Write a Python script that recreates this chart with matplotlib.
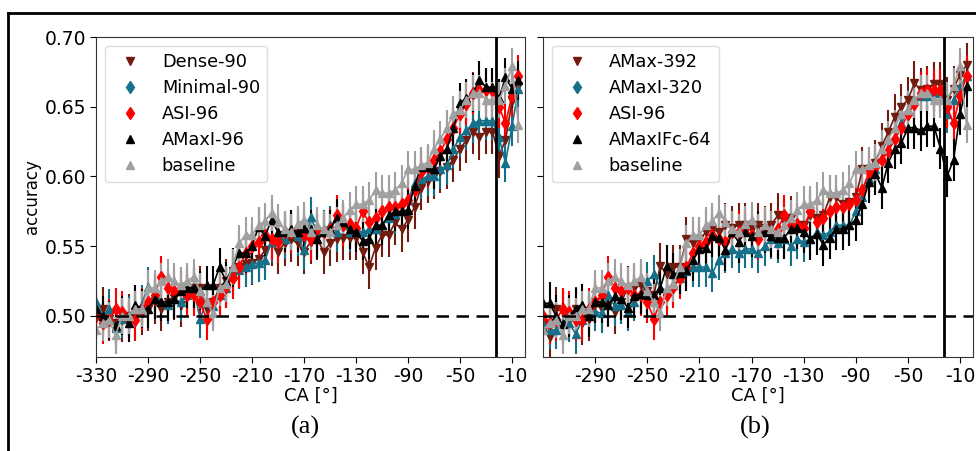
import numpy as np
import matplotlib.pyplot as plt
from matplotlib.lines import Line2D

# crank angle positions (deg)
ca = np.arange(-330, 0, 5)

# panel (a)
dense_90 = [0.500, 0.505, 0.498, 0.495, 0.497, 0.500, 0.500, 0.502, 0.505, 0.510,
            0.505, 0.510, 0.513, 0.508, 0.518, 0.520, 0.520, 0.505, 0.510, 0.520,
            0.525, 0.532, 0.535, 0.537, 0.538, 0.541, 0.547, 0.552, 0.546, 0.552,
            0.555, 0.552, 0.546, 0.553, 0.556, 0.546, 0.552, 0.555, 0.556, 0.556,
            0.556, 0.546, 0.535, 0.549, 0.558, 0.558, 0.567, 0.562, 0.569, 0.578,
            0.592, 0.597, 0.600, 0.604, 0.607, 0.612, 0.620, 0.626, 0.632, 0.628,
            0.632, 0.632, 0.615, 0.626, 0.654, 0.665]
minimal_90 = [0.510, 0.500, 0.505, 0.491, 0.498, 0.500, 0.505, 0.508, 0.521, 0.515,
              0.510, 0.508, 0.512, 0.510, 0.515, 0.520, 0.498, 0.510, 0.507, 0.515,
              0.520, 0.530, 0.533, 0.535, 0.537, 0.538, 0.540, 0.553, 0.557, 0.555,
              0.560, 0.557, 0.547, 0.571, 0.560, 0.562, 0.565, 0.560, 0.565, 0.560,
              0.562, 0.560, 0.562, 0.562, 0.565, 0.570, 0.573, 0.575, 0.583, 0.595,
              0.598, 0.600, 0.600, 0.605, 0.608, 0.620, 0.628, 0.633, 0.638, 0.640,
              0.640, 0.640, 0.628, 0.610, 0.636, 0.663]
asi_96 = [0.500, 0.495, 0.497, 0.505, 0.503, 0.497, 0.497, 0.505, 0.510, 0.515,
          0.528, 0.520, 0.518, 0.520, 0.515, 0.515, 0.510, 0.498, 0.510, 0.515,
          0.521, 0.527, 0.535, 0.545, 0.550, 0.553, 0.558, 0.555, 0.553, 0.560,
          0.560, 0.562, 0.558, 0.555, 0.562, 0.560, 0.562, 0.572, 0.565, 0.566,
          0.563, 0.575, 0.567, 0.570, 0.575, 0.578, 0.578, 0.580, 0.583, 0.590,
          0.603, 0.607, 0.612, 0.618, 0.627, 0.635, 0.645, 0.652, 0.660, 0.662,
          0.662, 0.662, 0.650, 0.638, 0.658, 0.672]
amaxi_96 = [0.505, 0.500, 0.497, 0.493, 0.500, 0.495, 0.508, 0.505, 0.505, 0.512,
            0.510, 0.510, 0.512, 0.518, 0.520, 0.520, 0.518, 0.522, 0.522, 0.535,
            0.525, 0.535, 0.545, 0.545, 0.550, 0.564, 0.557, 0.569, 0.560, 0.560,
            0.562, 0.560, 0.563, 0.562, 0.555, 0.560, 0.562, 0.570, 0.567, 0.562,
            0.560, 0.554, 0.555, 0.565, 0.565, 0.572, 0.575, 0.575, 0.576, 0.593,
            0.607, 0.607, 0.605, 0.615, 0.620, 0.635, 0.653, 0.656, 0.660, 0.669,
            0.664, 0.664, 0.656, 0.671, 0.663, 0.669]
baseline = [0.490, 0.495, 0.497, 0.486, 0.500, 0.500, 0.505, 0.505, 0.520, 0.520,
            0.525, 0.528, 0.525, 0.522, 0.525, 0.528, 0.518, 0.510, 0.502, 0.520,
            0.523, 0.535, 0.552, 0.558, 0.558, 0.565, 0.568, 0.574, 0.567, 0.562,
            0.560, 0.566, 0.569, 0.560, 0.565, 0.562, 0.560, 0.565, 0.570, 0.576,
            0.580, 0.580, 0.583, 0.590, 0.588, 0.588, 0.590, 0.595, 0.605, 0.605,
            0.608, 0.610, 0.620, 0.627, 0.635, 0.645, 0.648, 0.655, 0.660, 0.660,
            0.655, 0.655, 0.655, 0.665, 0.679, 0.637]

# panel (b)
amax_392 = [0.495, 0.485, 0.505, 0.503, 0.497, 0.505, 0.495, 0.498, 0.510, 0.505,
            0.508, 0.503, 0.510, 0.520, 0.520, 0.522, 0.518, 0.515, 0.536, 0.530,
            0.535, 0.535, 0.555, 0.552, 0.555, 0.560, 0.562, 0.560, 0.565, 0.563,
            0.565, 0.565, 0.562, 0.565, 0.563, 0.565, 0.572, 0.568, 0.570, 0.565,
            0.565, 0.572, 0.570, 0.572, 0.585, 0.585, 0.580, 0.582, 0.585, 0.605,
            0.605, 0.610, 0.622, 0.632, 0.643, 0.650, 0.655, 0.667, 0.662, 0.663,
            0.666, 0.666, 0.655, 0.663, 0.673, 0.680]
amaxi_320 = [0.495, 0.490, 0.490, 0.495, 0.495, 0.487, 0.497, 0.502, 0.503, 0.502,
             0.515, 0.507, 0.508, 0.503, 0.510, 0.515, 0.525, 0.530, 0.520, 0.518,
             0.522, 0.527, 0.532, 0.535, 0.535, 0.535, 0.531, 0.540, 0.545, 0.548,
             0.545, 0.548, 0.548, 0.545, 0.550, 0.555, 0.552, 0.555, 0.550, 0.555,
             0.553, 0.555, 0.560, 0.558, 0.560, 0.565, 0.565, 0.565, 0.575, 0.585,
             0.598, 0.605, 0.613, 0.620, 0.628, 0.638, 0.648, 0.655, 0.658, 0.658,
             0.660, 0.660, 0.645, 0.655, 0.664, 0.672]
amaxifc_64 = [0.509, 0.509, 0.500, 0.494, 0.500, 0.505, 0.508, 0.500, 0.510, 0.510,
              0.508, 0.514, 0.512, 0.506, 0.514, 0.516, 0.515, 0.515, 0.520, 0.536,
              0.530, 0.531, 0.533, 0.540, 0.548, 0.549, 0.557, 0.556, 0.547, 0.560,
              0.553, 0.560, 0.557, 0.560, 0.560, 0.557, 0.556, 0.556, 0.562, 0.563,
              0.560, 0.555, 0.559, 0.551, 0.556, 0.562, 0.562, 0.565, 0.569, 0.580,
              0.596, 0.602, 0.592, 0.610, 0.620, 0.624, 0.635, 0.635, 0.633, 0.636,
              0.636, 0.620, 0.600, 0.612, 0.645, 0.665]

# rough half-widths of the error bars per series
err_dense = 0.016
err_minimal = 0.014
err_asi = 0.015
err_amaxi = 0.014
err_base = 0.013
err_amax392 = 0.016
err_amaxi320 = 0.014
err_amaxifc = 0.015

brown = '#721c10'
teal = '#16708a'
red = '#ff0000'
grey = '#a0a0a0'

# name, values, error, colour, plot marker, legend marker
panel_a = [('Dense-90', dense_90, err_dense, brown, 'v', 'v'),
           ('Minimal-90', minimal_90, err_minimal, teal, '^', 'd'),
           ('ASI-96', asi_96, err_asi, red, 'd', 'd'),
           ('AMaxI-96', amaxi_96, err_amaxi, 'black', '^', '^'),
           ('baseline', baseline, err_base, grey, '^', '^')]
panel_b = [('AMax-392', amax_392, err_amax392, brown, 'v', 'v'),
           ('AMaxI-320', amaxi_320, err_amaxi320, teal, '^', 'd'),
           ('ASI-96', asi_96, err_asi, red, 'd', 'd'),
           ('AMaxIFc-64', amaxifc_64, err_amaxifc, 'black', '^', '^'),
           ('baseline', baseline, err_base, grey, '^', '^')]

fig = plt.figure(figsize=(9.76, 4.51), dpi=100)
ax_a = fig.add_axes([0.0984, 0.2084, 0.4395, 0.7095])
ax_b = fig.add_axes([0.5564, 0.2084, 0.4406, 0.7095])


def draw(ax, series, xticks, show_y):
    handles = []
    for name, vals, err, col, mk, leg_mk in series:
        ax.errorbar(ca, vals, yerr=err, color=col, marker=mk, ms=6, lw=1.2,
                    elinewidth=1.5, capsize=0)
        handles.append(Line2D([], [], color=col, marker=leg_mk, ls='none', ms=6, label=name))
    ax.axhline(0.5, color='black', ls=(0, (5, 3)), lw=1.8, zorder=3)
    ax.axvline(-22, color='black', lw=2, zorder=3)
    ax.set_xlim(-330, 0)
    ax.set_ylim(0.4705, 0.70)
    ax.set_xticks(xticks)
    ax.set_xticklabels([str(t) for t in xticks])
    ax.set_yticks([0.50, 0.55, 0.60, 0.65, 0.70])
    if show_y:
        ax.set_yticklabels(['0.50', '0.55', '0.60', '0.65', '0.70'])
        ax.set_ylabel('accuracy', fontsize=12, labelpad=3)
    else:
        ax.set_yticklabels([])
    ax.tick_params(labelsize=13.5, length=4, pad=3)
    ax.set_xlabel('CA [°]', fontsize=13, labelpad=1)
    for s in ax.spines.values():
        s.set_color('#333333')
    ax.legend(handles=handles, loc='upper left', fontsize=12.8, handletextpad=0.8,
              labelspacing=0.45, borderaxespad=0.5, framealpha=1, edgecolor='#dddddd')


draw(ax_a, panel_a, list(range(-330, 0, 40)), True)
draw(ax_b, panel_b, list(range(-290, 0, 40)), False)

fig.text(0.3125, 0.052, '(a)', ha='center', va='center', fontsize=19, family='Liberation Serif')
fig.text(0.774, 0.052, '(b)', ha='center', va='center', fontsize=19, family='Liberation Serif')

# frame around the figure (top and left edges visible)
fig.add_artist(Line2D([8 / 976, 1], [1 - 13 / 451, 1 - 13 / 451], color='black', lw=2))
fig.add_artist(Line2D([8 / 976, 8 / 976], [0, 1 - 13 / 451], color='black', lw=2))

fig.savefig('out.png', dpi=100)
